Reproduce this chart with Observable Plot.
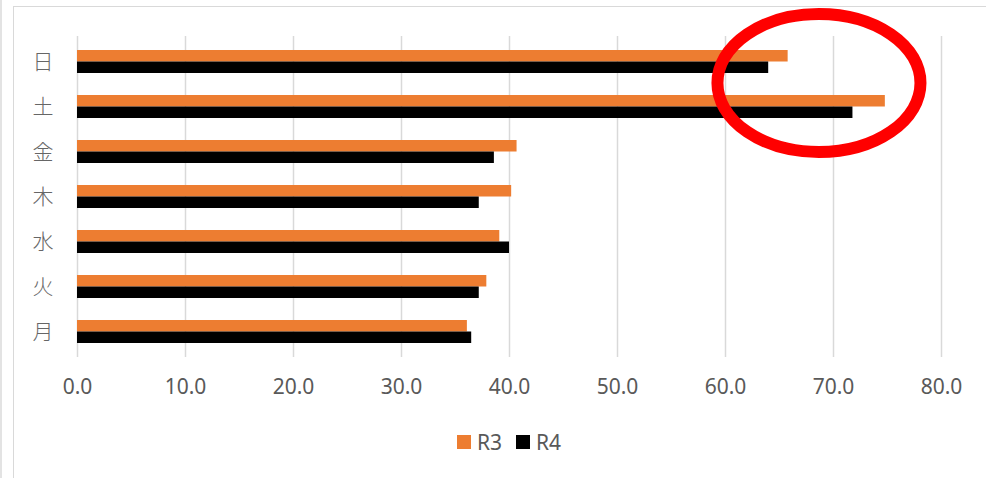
<!DOCTYPE html>
<html>
<head>
<meta charset="utf-8">
<script src="https://cdn.jsdelivr.net/npm/d3@7"></script>
<script src="https://cdn.jsdelivr.net/npm/@observablehq/plot@0.6"></script>
<style>
  html, body { margin: 0; padding: 0; background: #fff; }
  #wrap { position: relative; width: 986px; height: 478px; overflow: hidden; font-family: "Noto Sans", "Noto Sans CJK JP", sans-serif; }
  #edge1 { position: absolute; left: 0px; top: 0; width: 2px; height: 478px; background: #e3e3e3; }
  #frame { position: absolute; left: 13px; top: 6px; width: 980px; height: 480px; border-left: 1.5px solid #d9d9d9; border-top: 1.5px solid #d9d9d9; }
  #chart { position: absolute; left: 0; top: 0; }
  #legend { position: absolute; left: 0; top: 428px; width: 986px; display: flex; justify-content: center; gap: 14px; font-size: 21px; color: #595959; padding-left: 32px; box-sizing: border-box; }
  .item { display: flex; align-items: center; gap: 6px; }
  .sw { width: 14px; height: 14px; display: inline-block; }
  .ylab text { font-weight: 300; }
</style>
</head>
<body>
<div id="wrap">
  <div id="edge1"></div>
  <div id="frame"></div>
  <div id="chart"></div>
  <div id="legend"></div>
</div>
<script>
// Data
const days = ["日", "土", "金", "木", "水", "火", "月"];
const seriesNames = ["R3", "R4"];
const seriesColors = ["#ED7D31", "#000000"];
const r3 = [65.8, 74.8, 40.7, 40.2, 39.1, 37.9, 36.1];
const r4 = [64.0, 71.8, 38.6, 37.2, 40.0, 37.2, 36.5];
const xTicks = [0, 10, 20, 30, 40, 50, 60, 70, 80];
// Annotation ellipse (data units for x, between the two top categories for y)
const highlight = { x: 68.7, rx: 9.4, between: ["日", "土"] };

const rowsR3 = days.map((d, i) => ({ day: d, value: r3[i] }));
const rowsR4 = days.map((d, i) => ({ day: d, value: r4[i] }));

const H = 410;
const plot = Plot.plot({
  width: 986,
  height: H,
  marginLeft: 77,
  marginRight: 45,
  marginTop: 36,
  marginBottom: H - 357,
  style: { fontFamily: "'Noto Sans', 'Noto Sans CJK JP', sans-serif", background: "transparent", overflow: "visible" },
  x: { domain: [0, 80], ticks: xTicks, label: null },
  y: { domain: days, paddingInner: 0.5, paddingOuter: 0.25, label: null },
  marks: [
    Plot.ruleX(xTicks, { stroke: "#d9d9d9", strokeWidth: 1.5, strokeOpacity: 1 }),
    Plot.barX(rowsR3, { y: "day", x: "value", fill: seriesColors[0], insetBottom: 11.5, insetTop: 0 }),
    Plot.barX(rowsR4, { y: "day", x: "value", fill: seriesColors[1], insetTop: 11.5, insetBottom: 0 }),
    Plot.axisX({ ticks: xTicks, tickFormat: d3.format(".1f"), tickSize: 0, tickPadding: 22, fontSize: 21, color: "#595959", label: null }),
    Plot.axisY({ tickSize: 0, tickPadding: 24, fontSize: 21, color: "#666666", label: null, fontFamily: "'Noto Sans CJK JP', sans-serif", className: "ylab" })
  ]
});
document.getElementById("chart").appendChild(plot);

// Highlight ellipse placed through the plot's scales
const sx = plot.scale("x"), sy = plot.scale("y");
const yA = sy.apply(highlight.between[0]) + sy.bandwidth / 2;
const yB = sy.apply(highlight.between[1]) + sy.bandwidth / 2;
const cx = sx.apply(highlight.x);
const rx = sx.apply(highlight.x + highlight.rx) - cx;
d3.select(plot).append("ellipse")
  .attr("cx", cx)
  .attr("cy", (yA + yB) / 2 - 1)
  .attr("rx", rx)
  .attr("ry", 69)
  .attr("fill", "none")
  .attr("stroke", "#ff0000")
  .attr("stroke-width", 12);

// Legend
const legend = document.getElementById("legend");
seriesNames.forEach((n, i) => {
  const it = document.createElement("span");
  it.className = "item";
  it.innerHTML = `<span class="sw" style="background:${seriesColors[i]}"></span><span>${n}</span>`;
  legend.appendChild(it);
});
</script>
</body>
</html>
